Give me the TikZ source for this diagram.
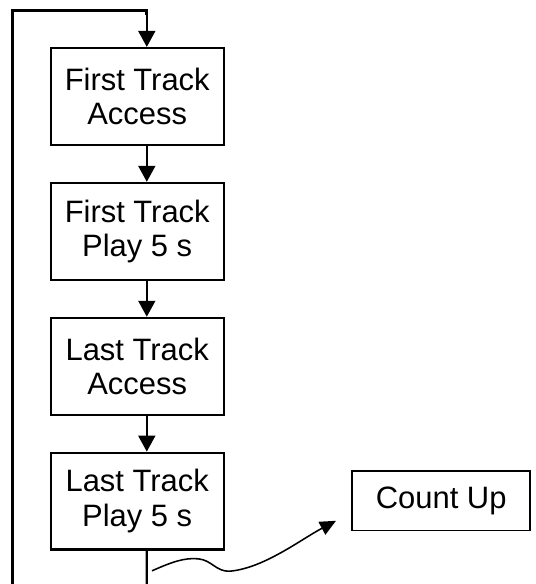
\documentclass[tikz,border=0pt]{standalone}
\usepackage{fontspec}
\setmainfont{Liberation Sans}
\usepackage{tikz}
\usetikzlibrary{arrows.meta,calc,positioning}
\tikzset{
  stepbox/.style={
    draw=black,
    line width=1.5pt,
    fill=white,
    align=center,
    font=\fontsize{22}{24.5}\selectfont,
    minimum width=4.33cm,
    minimum height=2.42cm,
    inner sep=0pt
  },
  countbox/.style={
    draw=black,
    line width=1.2pt,
    fill=white,
    font=\fontsize{22}{24.5}\selectfont,
    minimum width=4.45cm,
    minimum height=1.48cm,
    inner sep=0pt
  },
  flow/.style={line width=1.7pt, draw=black, -{Triangle[length=4mm,width=4.2mm]}},
  loopline/.style={line width=2.2pt, draw=black},
  wiggle/.style={line width=1.1pt, draw=black, -{Triangle[length=4mm,width=3.6mm]}}
}

\begin{document}
\begin{tikzpicture}[x=1cm,y=1cm]
\path[use as bounding box] (0,0) rectangle (13.4,14.6);

\node[stepbox] (firstacc) at (3.43,12.19) {First Track\\Access};
\node[stepbox, below=0.9cm of firstacc] (firstplay) {First Track\\Play 5 s};
\node[stepbox, below=0.9cm of firstplay] (lastacc) {Last Track\\Access};
\node[stepbox, below=0.9cm of lastacc] (lastplay) {Last Track\\Play 5 s};
\node[countbox] (count) at (11.03,2.08) {Count Up};

\coordinate (loopbot) at (0.32,0);
\coordinate (looptop) at (0.32,14.33);
\coordinate (playbot) at (3.67,0);
\coordinate (wavestart) at (3.8,0.33);
\coordinate (wavetip) at (8.4,1.58);

% return loop
\draw[loopline] (loopbot) -- (looptop) -| ([yshift=8mm,xshift=2.4mm]firstacc.north);
\draw[flow] ([yshift=8.4mm,xshift=2.4mm]firstacc.north) -- ([xshift=2.4mm]firstacc.north);

\draw[flow] ([xshift=2.4mm]firstacc.south) -- ([xshift=2.4mm]firstplay.north);
\draw[flow] ([xshift=2.4mm]firstplay.south) -- ([xshift=2.4mm]lastacc.north);
\draw[flow] ([xshift=2.4mm]lastacc.south) -- ([xshift=2.4mm]lastplay.north);
\draw[line width=1.7pt] ([xshift=2.4mm]lastplay.south) -- (playbot);

\draw[wiggle] (wavestart) .. controls (4.3,0.55) and (4.6,0.66) .. (4.95,0.63)
  .. controls (5.3,0.6) and (5.4,0.3) .. (5.75,0.32)
  .. controls (6.6,0.4) and (7.5,1.1) .. (wavetip);

\end{tikzpicture}
\end{document}
